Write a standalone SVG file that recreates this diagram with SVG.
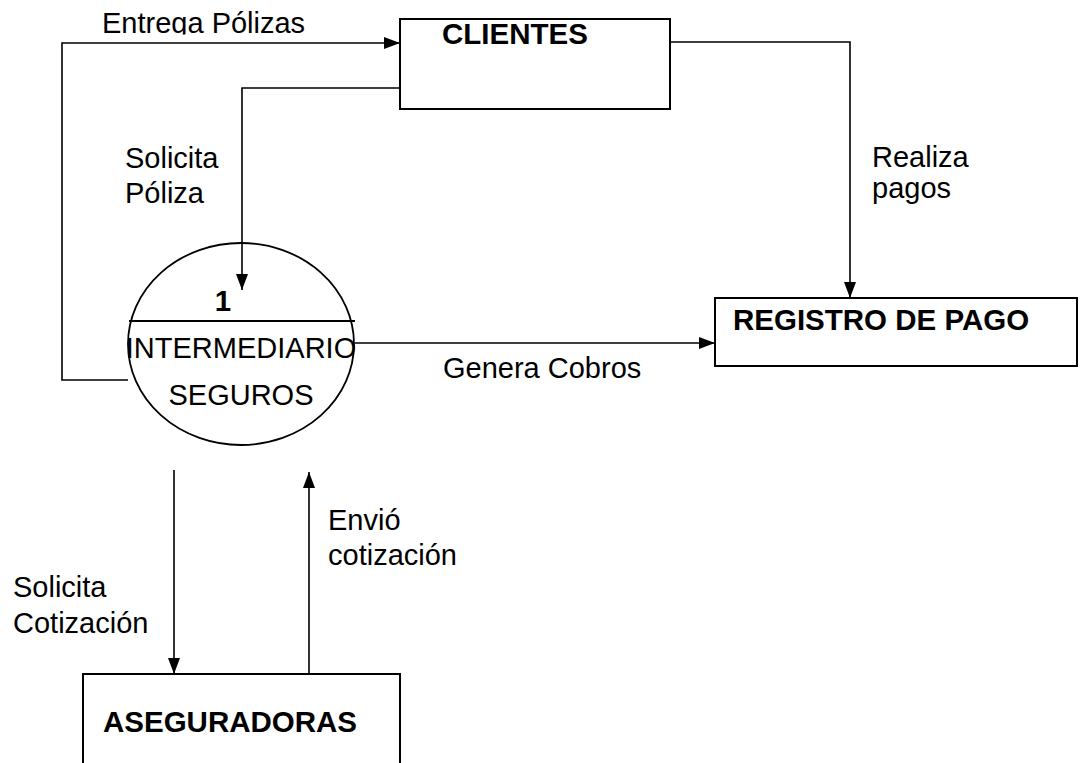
<svg xmlns="http://www.w3.org/2000/svg" width="1080" height="763" viewBox="0 0 1080 763">
<style>
text{font-family:"Liberation Sans",Arial,sans-serif;fill:#000;font-size:29px}
.b{font-weight:bold;font-size:29.5px}
.box{fill:#fff;stroke:#000;stroke-width:2}
.ln{fill:none;stroke:#000;stroke-width:1.6}
</style>
<defs>
<marker id="ah" viewBox="0 0 16 12" refX="16" refY="6" markerWidth="16" markerHeight="12" markerUnits="userSpaceOnUse" orient="auto">
<path d="M0,0 L16,6 L0,12 z" fill="#000"/>
</marker>
<clipPath id="topclip"><rect x="0" y="0" width="1080" height="34.5"/></clipPath>
</defs>
<rect width="1080" height="763" fill="#fff"/>
<g id="connectors">
<path class="ln" d="M128,380 H62 V43 H400" marker-end="url(#ah)"/>
<path class="ln" d="M400,88 H242 V290" marker-end="url(#ah)"/>
<path class="ln" d="M670,42 H850 V298" marker-end="url(#ah)"/>
<path class="ln" d="M355,343 H715" marker-end="url(#ah)"/>
<path class="ln" d="M174,470 V674" marker-end="url(#ah)"/>
<path class="ln" d="M309,674 V472" marker-end="url(#ah)"/>
<text x="102" y="33" clip-path="url(#topclip)" font-size="29.7">Entrega Pólizas</text>
<text x="125" y="168">Solicita</text>
<text x="125" y="203">Póliza</text>
<text x="872" y="167">Realiza</text>
<text x="872" y="198">pagos</text>
<text x="443" y="378">Genera Cobros</text>
<text x="13" y="597">Solicita</text>
<text x="13" y="633">Cotización</text>
<text x="328" y="530">Envió</text>
<text x="328" y="565">cotización</text>
</g>
<g id="clientes">
<rect class="box" x="400" y="19" width="270" height="90"/>
<text class="b" x="442" y="44">CLIENTES</text>
</g>
<g id="registro">
<rect class="box" x="715" y="298" width="362" height="68"/>
<text class="b" x="733" y="330">REGISTRO DE PAGO</text>
</g>
<g id="intermediario">
<ellipse cx="241" cy="344" rx="113" ry="101" fill="none" stroke="#000" stroke-width="1.8"/>
<line x1="129" y1="321" x2="355" y2="321" stroke="#000" stroke-width="1.8"/>
<text class="b" x="223" y="311" text-anchor="middle">1</text>
<text x="241" y="358" text-anchor="middle" font-size="27.2">INTERMEDIARIO</text>
<text x="241" y="405" text-anchor="middle" font-size="27.2">SEGUROS</text>
</g>
<g id="aseguradoras">
<rect class="box" x="83" y="674" width="317" height="120"/>
<text class="b" x="103" y="732">ASEGURADORAS</text>
</g>
</svg>
